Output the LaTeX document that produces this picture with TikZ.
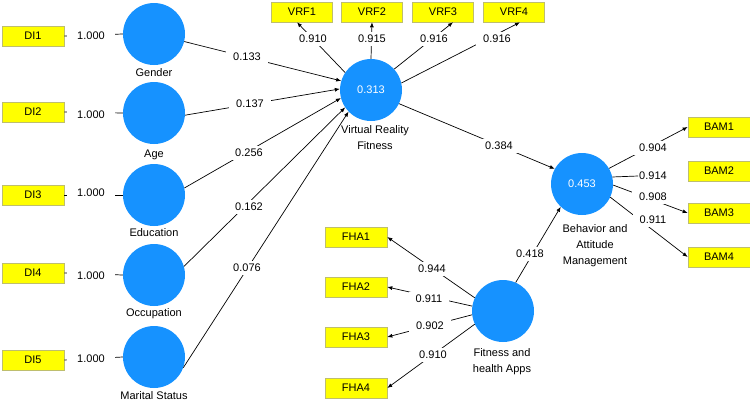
\documentclass[tikz,border=0pt]{standalone}
\usepackage{fontspec}
\setmainfont{Liberation Sans}
\usetikzlibrary{arrows.meta,calc}
\definecolor{cblue}{RGB}{22,146,255}
\definecolor{cyel}{RGB}{255,255,0}
\definecolor{cyb}{RGB}{190,190,110}
\begin{document}
\begin{tikzpicture}[x=1pt,y=-1pt,
  font=\fontsize{11}{16}\selectfont,
  ind/.style={draw=cyb,fill=cyel,minimum width=62pt,minimum height=20pt,inner sep=0pt,line width=0.6pt},
  lv/.style={circle,fill=cblue,minimum size=62pt,inner sep=0pt,text=white},
  lab/.style={fill=white,inner xsep=7pt,inner ysep=3pt},
  wlab/.style={fill=white,inner xsep=10pt,inner ysep=3pt},
  lvtext/.style={align=center,inner sep=0pt},
  ln/.style={line width=0.7pt},
  ar/.style={line width=0.7pt,-{Latex[length=5pt,width=4pt]}}]
\useasboundingbox (0,0) rectangle (750,402);

% indicators
\node[ind] (di1) at (33,36) {DI1};
\node[ind] (di2) at (33,112) {DI2};
\node[ind] (di3) at (33,195) {DI3};
\node[ind] (di4) at (33,273) {DI4};
\node[ind] (di5) at (33,360) {DI5};
\node[ind,minimum width=61pt] (v1) at (302,12) {VRF1};
\node[ind,minimum width=61pt] (v2) at (372,12) {VRF2};
\node[ind,minimum width=61pt] (v3) at (443,12) {VRF3};
\node[ind,minimum width=61pt] (v4) at (514,12) {VRF4};
\node[ind] (b1) at (719,127) {BAM1};
\node[ind] (b2) at (719,171) {BAM2};
\node[ind] (b3) at (719,213) {BAM3};
\node[ind] (b4) at (719,257) {BAM4};
\node[ind] (f1) at (356,237) {FHA1};
\node[ind] (f2) at (356,287) {FHA2};
\node[ind] (f3) at (356,337) {FHA3};
\node[ind] (f4) at (356,388) {FHA4};

% latent variables
\node[lv] (gen) at (154,34) {};
\node[lv] (age) at (154,113) {};
\node[lv] (edu) at (154,195) {};
\node[lv] (occ) at (154,275) {};
\node[lv] (mar) at (154,357) {};
\node[lv] (vrf) at (371,90) {0.313};
\node[lv] (bam) at (582,184) {0.453};
\node[lv] (fha) at (503,311) {};

% captions
\node[lvtext] (tgen) at (154,73) {Gender};
\node[lvtext] (tage) at (154,155) {Age};
\node[lvtext] (tedu) at (154,233) {Education};
\node[lvtext] (tocc) at (154,314) {Occupation};
\node[lvtext] (tmar) at (154,396) {Marital Status};
\node[lvtext] (tvrf) at (375,138) {Virtual Reality\\Fitness};
\node[lvtext] (tbam) at (595,246) {Behavior and\\Attitude\\Management};
\node[lvtext] (tfha) at (502,362) {Fitness and\\health Apps};

% single-item lines
\draw[ln] (di1.east) -- (gen.west);
\draw[ln] (di2.east) -- (age.west);
\draw[ln] (di3.east) -- (edu.west);
\draw[ln] (di4.east) -- (occ.west);
\draw[ln] (di5.east) -- (mar.west);

% structural paths
\draw[ar] (gen.-14) -- (vrf.163);
\draw[ar] (age.-4) -- (vrf.178);
\draw[ar] (edu.13) -- (vrf.195);
\draw[ar] (occ.16) -- (vrf.214);
\draw[ar] (mar.-20) -- (vrf.224);
\draw[ar] (vrf.-26) -- (bam.151);
\draw[ar] (fha.66) -- (bam.227);

% outer loadings
\draw[ar] (vrf.146) -- ($(v1.south)+(-5,0)$);
\draw[ar] (vrf.north) -- (v2.south);
\draw[ar] (vrf.42) -- ($(v3.south)+(10,0)$);
\draw[ar] (vrf.13) -- ($(v4.south)+(6,0)$);
\draw[ar] (bam.30) -- (b1.west);
\draw[ar] (bam.-2) -- (b3.west);
\draw[ar] (bam.-25) -- (b4.west);
\draw[ar] (fha.155) -- (f1.east);
\draw[ar] (fha.171) -- (f2.east);
\draw[ar] (fha.187) -- (f3.east);
\draw[ar] (fha.205) -- (f4.east);

% labels
\node[wlab] (w1) at (91,36) {1.000};
\node[wlab] (w2) at (91,115) {1.000};
\node[wlab] (w3) at (91,193) {1.000};
\node[wlab] (w4) at (91,276) {1.000};
\node[wlab] (w5) at (91,359) {1.000};
\node[lab] (p1) at (247,57) {0.133};
\node[lab] (p2) at (250,104) {0.137};
\node[lab] (p3) at (249,153) {0.256};
\node[lab] (p4) at (249,207) {0.162};
\node[lab] (p5) at (247,268) {0.076};
\node[lab] (p6) at (499,146) {0.384};
\node[lab] (p7) at (530,254) {0.418};
\node[lab] (lv1) at (313,39) {0.910};
\node[lab] (lv2) at (372,39) {0.915};
\node[lab] (lv3) at (434,39) {0.916};
\node[lab] (lv4) at (497,39) {0.916};
\node[lab] (lb1) at (653,148) {0.904};
\node[lab,inner xsep=1pt] (lb2) at (653,176) {0.914};
\node[lab] (lb3) at (653,197) {0.908};
\node[lab] (lb4) at (653,220) {0.911};
\node[lab] (lf1) at (432,269) {0.944};
\node[lab] (lf2) at (429,299) {0.911};
\node[lab] (lf3) at (430,326) {0.902};
\node[lab] (lf4) at (433,355) {0.910};
\draw[ln] (bam.13) -- (lb2.west);
\end{tikzpicture}
\end{document}
